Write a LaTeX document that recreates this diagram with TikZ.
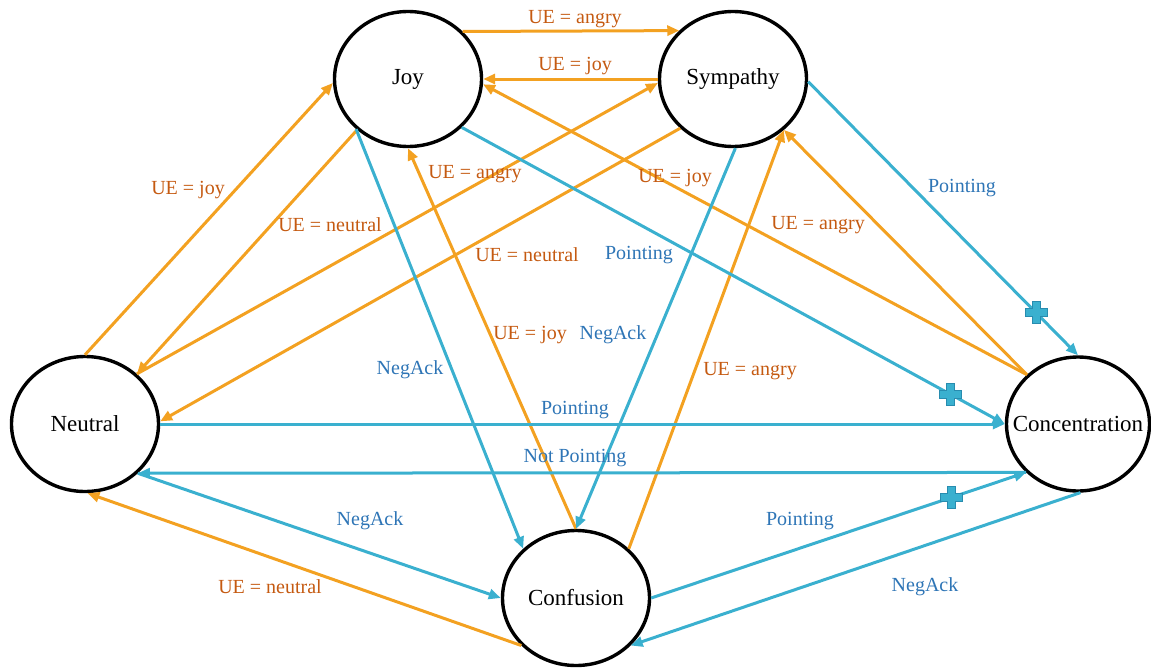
\documentclass[tikz,border=0pt]{standalone}
\usepackage{fontspec}
\setmainfont{Liberation Serif}
\usetikzlibrary{arrows.meta,shapes.geometric}
\definecolor{emoorange}{RGB}{243,161,33}
\definecolor{actblue}{RGB}{58,176,207}
\definecolor{emotext}{RGB}{197,90,17}
\definecolor{acttext}{RGB}{46,117,182}
\definecolor{plusborder}{RGB}{40,140,175}

\begin{document}
\begin{tikzpicture}[x=0.5pt,y=-0.5pt,
  state/.style={ellipse,draw=black,line width=1.7pt,minimum width=73.5pt,minimum height=67.5pt,inner sep=0pt,font=\fontsize{11.5}{13}\selectfont},
  emoarrow/.style={draw=emoorange,line width=1.5pt,-{Triangle[length=6pt,width=5pt]}},
  actarrow/.style={draw=actblue,line width=1.5pt,-{Triangle[length=6pt,width=5pt]}},
  emolabel/.style={text=emotext,inner sep=0pt,font=\fontsize{10}{12}\selectfont},
  actlabel/.style={text=acttext,inner sep=0pt,font=\fontsize{10}{12}\selectfont},
  plusmark/.pic={\filldraw[fill=actblue,draw=plusborder,line width=0.4pt]
    (-4,-11) -- (4,-11) -- (4,-4) -- (11,-4) -- (11,4) -- (4,4)
    -- (4,11) -- (-4,11) -- (-4,4) -- (-11,4) -- (-11,-4) -- (-4,-4) -- cycle;}]

\useasboundingbox (0,0) rectangle (1151,669);

% states
\node[state] (joy) at (408,79) {Joy};
\node[state] (sympathy) at (733,79) {Sympathy};
\node[state] (neutral) at (85,424) {Neutral};
\node[state,minimum width=71.5pt,minimum height=67pt] (concentration) at (1078,424) {\makebox[0pt]{Concentration}};
\node[state] (confusion) at (576,598) {Confusion};

% user emotion transitions
\draw[emoarrow] (joy.41) -- (sympathy.138);
\draw[emoarrow] (sympathy.180) -- (joy.0);
\draw[emoarrow] (neutral.90) -- (joy.183);
\draw[emoarrow] (joy.225) -- (neutral.44);
\draw[emoarrow] (neutral.44) -- (sympathy.183);
\draw[emoarrow] (sympathy.223) -- (neutral.2);
\draw[emoarrow] (confusion.90) -- (joy.270);
\draw[emoarrow] (concentration.136) -- (joy.-4);
\draw[emoarrow] (concentration.136) -- (sympathy.-45);
\draw[emoarrow] (confusion.43) -- (sympathy.-45);
\draw[emoarrow] (confusion.221) -- (neutral.-88);

% user action transitions
\draw[actarrow] (joy.224) -- (confusion.137);
\draw[actarrow] (joy.-42) -- coordinate[pos=0.9] (plusjoy) (concentration.180);
\draw[actarrow] (sympathy.-88) -- (confusion.90);
\draw[actarrow] (sympathy.-2) -- coordinate[pos=0.845] (plussym) (concentration.90);
\draw[actarrow] (neutral.0) -- (concentration.180);
\draw[actarrow] (concentration.223) -- (neutral.-43);
\draw[actarrow] (neutral.-43) -- (confusion.180);
\draw[actarrow] (confusion.0) -- coordinate[pos=0.8] (pluscon) (concentration.223);
\draw[actarrow] (concentration.-88) -- (confusion.-41);

\pic at (plusjoy) {plusmark};
\pic at (plussym) {plusmark};
\pic at (pluscon) {plusmark};

% labels
\node[emolabel] (l1) at (575,19) {UE = angry};
\node[emolabel] (l2) at (575,66) {UE = joy};
\node[emolabel] (l3) at (188,190) {UE = joy};
\node[emolabel] (l4) at (330,225) {UE = neutral};
\node[emolabel] (l5) at (475,174) {UE = angry};
\node[emolabel] (l6) at (675,178) {UE = joy};
\node[emolabel] (l7) at (527,255) {UE = neutral};
\node[emolabel] (l8) at (530,335) {UE = joy};
\node[emolabel] (l9) at (818,225) {UE = angry};
\node[emolabel] (l10) at (750,371) {UE = angry};
\node[emolabel] (l11) at (270,587) {UE = neutral};
\node[actlabel] (a1) at (639,255) {Pointing};
\node[actlabel] (a2) at (613,335) {NegAck};
\node[actlabel] (a3) at (962,188) {Pointing};
\node[actlabel] (a4) at (410,370) {NegAck};
\node[actlabel] (a5) at (575,410) {Pointing};
\node[actlabel] (a6) at (575,458) {Not Pointing};
\node[actlabel] (a7) at (370,521) {NegAck};
\node[actlabel] (a8) at (800,521) {Pointing};
\node[actlabel] (a9) at (925,587) {NegAck};

\end{tikzpicture}
\end{document}
